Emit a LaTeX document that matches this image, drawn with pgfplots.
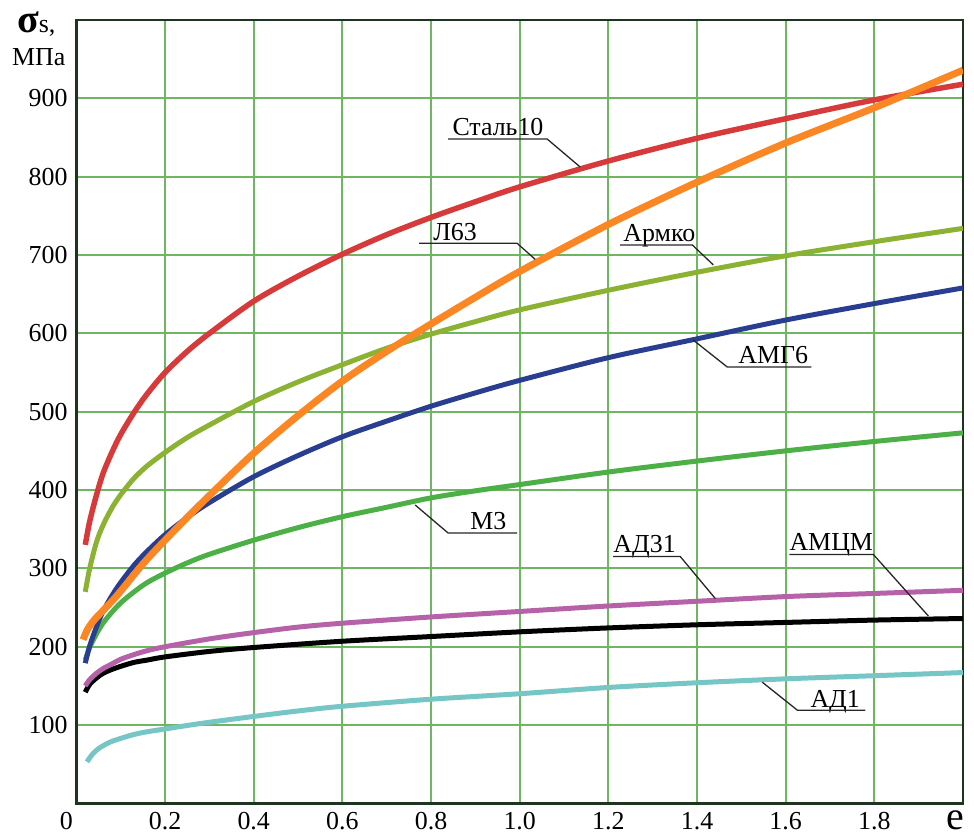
\documentclass[border=0pt]{standalone}
\usepackage{pgfplots}
\pgfplotsset{compat=1.18}
\usepackage{fontspec}
\setmainfont{Liberation Serif}[Ligatures=TeX]
\definecolor{gridc}{RGB}{110,182,98}
\definecolor{axc}{RGB}{30,52,30}
\definecolor{cred}{RGB}{214,58,58}
\definecolor{corange}{RGB}{250,135,35}
\definecolor{colive}{RGB}{140,178,52}
\definecolor{cblue}{RGB}{42,62,145}
\definecolor{cgreen}{RGB}{76,176,70}
\definecolor{cpink}{RGB}{182,98,168}
\definecolor{ccyan}{RGB}{118,198,198}
\begin{document}
\rmfamily\fontsize{26}{30}\selectfont
\begin{tikzpicture}
\begin{axis}[
  at={(0,0)}, anchor=south west,
  scale only axis, width=886.6bp, height=783.4bp,
  xmin=0, xmax=2, ymin=0, ymax=1000,
  xtick={0.2,0.4,0.6,0.8,1.0,1.2,1.4,1.6,1.8},
  ytick={100,200,300,400,500,600,700,800,900},
  xticklabel={\pgfmathprintnumber[fixed,fixed zerofill,precision=1]{\tick}},
  extra x ticks={0}, extra x tick labels={0},
  extra x tick style={grid=none, xticklabel style={xshift=-10bp}},
  grid=major,
  major grid style={draw=gridc, line width=1.8bp},
  major tick length=0pt,
  axis line style={draw=axc, line width=2.5bp},
  tick label style={font=\rmfamily\fontsize{26}{30}\selectfont},
  /pgf/number format/assume math mode=true,
  every axis plot/.append style={smooth, no markers},
]
% AD1
\addplot[ccyan, line width=5bp] coordinates {(0.024,53) (0.035,62) (0.05,70) (0.075,78) (0.1,83) (0.13,88) (0.16,91.5) (0.2,95) (0.28,102) (0.4,111) (0.5,118) (0.6,124) (0.8,133) (1.0,140) (1.2,148) (1.4,154) (1.6,159) (1.8,163) (2.0,167)};
% AMCM
\addplot[black, line width=5bp] coordinates {(0.02,142) (0.03,152) (0.045,160) (0.06,166) (0.08,171) (0.1,175) (0.13,180) (0.16,183) (0.2,187) (0.3,194) (0.4,199) (0.6,207) (0.8,213) (1.0,219) (1.2,224) (1.4,228) (1.6,231) (1.8,234) (2.0,236)};
% AD31
\addplot[cpink, line width=5bp] coordinates {(0.02,150) (0.03,158) (0.045,166) (0.06,172) (0.08,178) (0.1,184) (0.13,190) (0.16,195) (0.2,200) (0.3,210) (0.4,218) (0.5,225) (0.6,230) (0.8,238) (1.0,245) (1.2,252) (1.4,258) (1.6,264) (1.8,268) (2.0,272)};
% M3
\addplot[cgreen, line width=5bp] coordinates {(0.02,183) (0.03,199) (0.045,216) (0.06,230) (0.08,244) (0.1,256) (0.13,270) (0.16,282) (0.2,294) (0.25,307) (0.3,318) (0.4,336) (0.5,352) (0.6,366) (0.7,378) (0.8,390) (0.9,399) (1.0,407) (1.2,423) (1.4,437) (1.6,450) (1.8,462) (2.0,473)};
% AMG6
\addplot[cblue, line width=5bp] coordinates {(0.02,179) (0.03,201) (0.045,225) (0.06,245) (0.08,265) (0.1,282) (0.13,304) (0.16,322) (0.2,343) (0.25,365) (0.3,384) (0.4,417) (0.5,444) (0.6,468) (0.7,488) (0.8,507) (0.9,524) (1.0,540) (1.2,569) (1.4,593) (1.6,617) (1.8,638) (2.0,658)};
% Armco
\addplot[colive, line width=5bp] coordinates {(0.02,270) (0.03,300) (0.045,333) (0.06,355) (0.08,377) (0.1,394) (0.13,415) (0.16,431) (0.2,448) (0.25,467) (0.3,483) (0.4,513) (0.5,538) (0.6,560) (0.7,581) (0.8,599) (0.9,615) (1.0,630) (1.2,655) (1.4,678) (1.6,699) (1.8,717) (2.0,734)};
% Steel10
\addplot[cred, line width=5.5bp] coordinates {(0.02,330) (0.03,360) (0.045,393) (0.06,421) (0.08,448) (0.1,471) (0.13,499) (0.16,523) (0.2,550) (0.25,577) (0.3,600) (0.4,641) (0.5,673) (0.6,701) (0.7,726) (0.8,748) (0.9,768) (1.0,787) (1.2,820) (1.4,849) (1.6,874) (1.8,898) (2.0,918)};
% L63
\addplot[corange, line width=7bp] coordinates {(0.015,209) (0.025,222) (0.04,234) (0.06,246) (0.08,258) (0.1,271) (0.13,292) (0.16,312) (0.2,336) (0.25,365) (0.3,393) (0.4,447) (0.5,495) (0.6,539) (0.7,577) (0.8,612) (0.9,646) (1.0,679) (1.2,739) (1.4,793) (1.6,843) (1.8,888) (2.0,936)};

% annotations
\tikzset{lead/.style={draw=black!85, line width=1.3bp}}
\node[anchor=base west, inner sep=0pt] at (axis cs:0.848,852) {Сталь10};
\draw[lead] (axis cs:0.8386,848) -- (axis cs:1.0621,848) -- (axis cs:1.1365,812.3);
\node[anchor=base west, inner sep=0pt] at (axis cs:0.8048,719) {Л63};
\draw[lead] (axis cs:0.7732,714.9) -- (axis cs:0.9943,714.9) -- (axis cs:1.0349,694.5);
\node[anchor=base west, inner sep=0pt] at (axis cs:1.2336,716.9) {Армко};
\draw[lead] (axis cs:1.2268,712.9) -- (axis cs:1.3893,712.9) -- (axis cs:1.4367,687.4);
\node[anchor=base west, inner sep=0pt] at (axis cs:1.4931,560.9) {АМГ6};
\draw[lead] (axis cs:1.6578,557) -- (axis cs:1.4683,557) -- (axis cs:1.3916,591.4);
\node[anchor=base west, inner sep=0pt] at (axis cs:0.8883,349) {М3};
\draw[lead] (axis cs:0.9943,345.1) -- (axis cs:0.8386,345.1) -- (axis cs:0.7642,380.9);
\node[anchor=base west, inner sep=0pt] at (axis cs:1.2110,320.1) {АД31};
\draw[lead] (axis cs:1.2110,315.1) -- (axis cs:1.3622,315.1) -- (axis cs:1.4412,261.5);
\node[anchor=base west, inner sep=0pt] at (axis cs:1.6082,322.6) {АМЦМ};
\draw[lead] (axis cs:1.6082,317.7) -- (axis cs:1.7978,317.7) -- (axis cs:1.9219,239.2);
\node[anchor=base west, inner sep=0pt] at (axis cs:1.6556,123) {АД1};
\draw[lead] (axis cs:1.7798,119) -- (axis cs:1.6263,119) -- (axis cs:1.5473,154.7);

\coordinate (sig) at (axis cs:-0.134,984);
\coordinate (mpa) at (axis cs:-0.1453,942.4);
\coordinate (ee) at (axis cs:1.962,-33);
\end{axis}
\node[anchor=base west, inner sep=0pt] at (sig) {{\fontsize{40}{44}\selectfont\bfseries σ}{\fontsize{26}{30}\selectfont s,}};
\node[anchor=base west, inner sep=0pt] at (mpa) {МПа};
\node[anchor=base west, inner sep=0pt] at (ee) {\fontsize{40}{44}\selectfont e};
\pgfresetboundingbox
\path[use as bounding box] (-76.4bp,-34.6bp) rectangle (897.6bp,803.4bp);
\end{tikzpicture}
\end{document}
